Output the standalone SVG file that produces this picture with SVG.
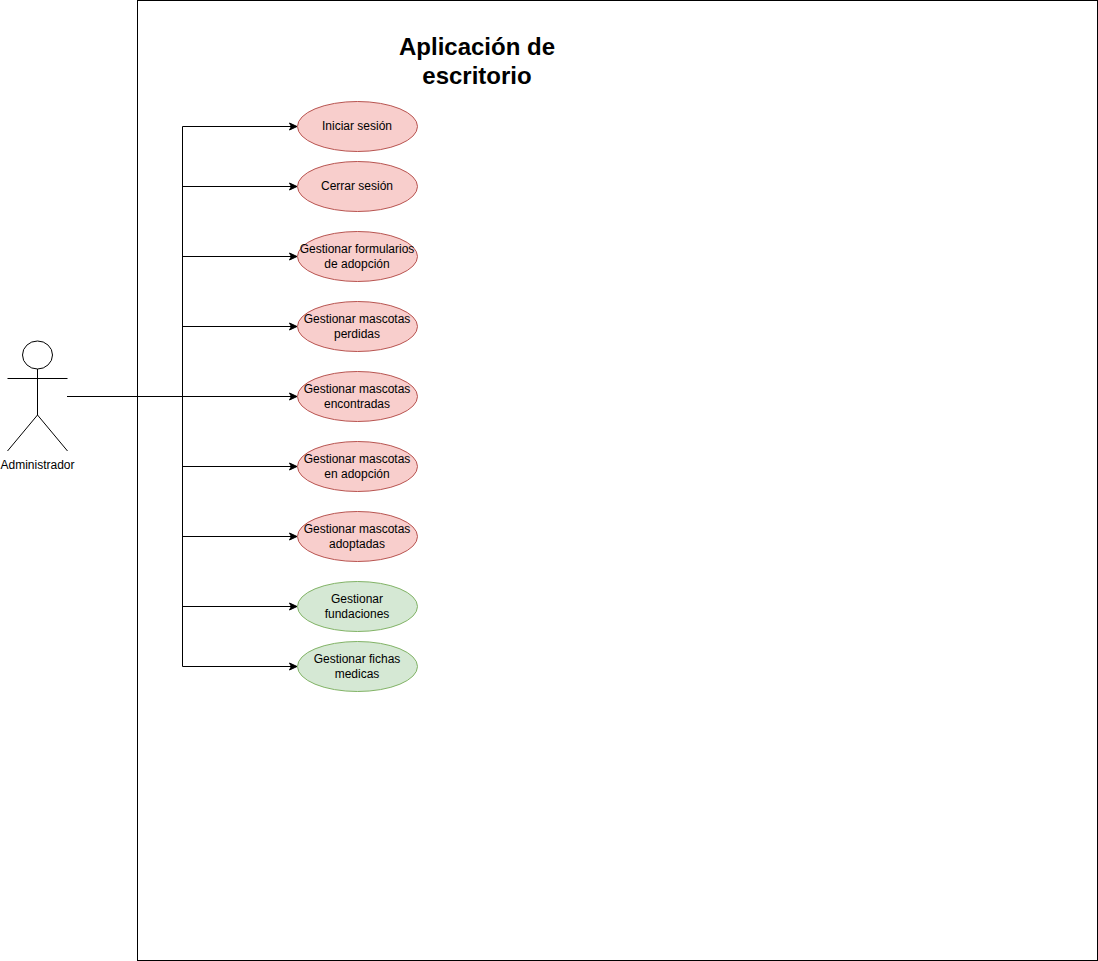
<svg xmlns="http://www.w3.org/2000/svg" width="1098" height="961" viewBox="0 0 1098 961">
<style>
text{font-family:"Liberation Sans",Arial,Helvetica,sans-serif;font-size:12px;fill:#000;text-anchor:middle}
.title{font-size:24px;font-weight:bold}
.uc{stroke-width:1}
.red{fill:#f8cecc;stroke:#b85450}
.green{fill:#d5e8d4;stroke:#82b366}
.c{fill:none;stroke:#000;stroke-width:1}
.a{fill:none;stroke:#000;stroke-width:1;marker-end:url(#arrow)}
</style>
<defs>
<marker id="arrow" markerUnits="userSpaceOnUse" markerWidth="9" markerHeight="10" refX="8" refY="4.5" orient="auto" overflow="visible">
<path d="M0.5,1 L8,4.5 L0.5,8 L2.4,4.5 Z" fill="#000" stroke="#000"/>
</marker>
</defs>
<rect id="boundary" x="137.5" y="0.5" width="960" height="960" fill="#fff" stroke="#000"/>
<g id="title"><text class="title" x="477" y="55">Aplicación de</text><text class="title" x="477" y="84">escritorio</text></g>
<g id="connectors">
<path class="c" d="M67 396.5H182.5"/>
<path class="c" d="M182.5 126.5V666.5"/>
<path class="a" d="M182.5 126.5H297"/>
<path class="a" d="M182.5 186.5H297"/>
<path class="a" d="M182.5 256.5H297"/>
<path class="a" d="M182.5 326.5H297"/>
<path class="a" d="M182.5 396.5H297"/>
<path class="a" d="M182.5 466.5H297"/>
<path class="a" d="M182.5 536.5H297"/>
<path class="a" d="M182.5 606.5H297"/>
<path class="a" d="M182.5 666.5H297"/>
</g>
<g id="actor-administrador">
<ellipse cx="37.5" cy="355" rx="15" ry="14" fill="#fff" stroke="#000"/>
<path class="c" d="M37.5 369V415M7.5 378.5H67.5M37.5 415L7.5 451M37.5 415L67.5 451"/>
<text x="37.5" y="469">Administrador</text>
</g>
<g id="uc-iniciar"><ellipse class="uc red" cx="357.5" cy="126.5" rx="60" ry="25"/><text x="357" y="130">Iniciar sesión</text></g>
<g id="uc-cerrar"><ellipse class="uc red" cx="357.5" cy="186.5" rx="60" ry="25"/><text x="357" y="190">Cerrar sesión</text></g>
<g id="uc-formularios"><ellipse class="uc red" cx="357.5" cy="256.5" rx="60" ry="25"/><text x="357" y="253">Gestionar formularios</text><text x="357" y="268">de adopción</text></g>
<g id="uc-perdidas"><ellipse class="uc red" cx="357.5" cy="326.5" rx="60" ry="25"/><text x="357" y="323">Gestionar mascotas</text><text x="357" y="338">perdidas</text></g>
<g id="uc-encontradas"><ellipse class="uc red" cx="357.5" cy="396.5" rx="60" ry="25"/><text x="357" y="393">Gestionar mascotas</text><text x="357" y="408">encontradas</text></g>
<g id="uc-en-adopcion"><ellipse class="uc red" cx="357.5" cy="466.5" rx="60" ry="25"/><text x="357" y="463">Gestionar mascotas</text><text x="357" y="478">en adopción</text></g>
<g id="uc-adoptadas"><ellipse class="uc red" cx="357.5" cy="536.5" rx="60" ry="25"/><text x="357" y="533">Gestionar mascotas</text><text x="357" y="548">adoptadas</text></g>
<g id="uc-fundaciones"><ellipse class="uc green" cx="357.5" cy="606.5" rx="60" ry="25"/><text x="357" y="603">Gestionar</text><text x="357" y="618">fundaciones</text></g>
<g id="uc-fichas"><ellipse class="uc green" cx="357.5" cy="666.5" rx="60" ry="25"/><text x="357" y="663">Gestionar fichas</text><text x="357" y="678">medicas</text></g>
</svg>
